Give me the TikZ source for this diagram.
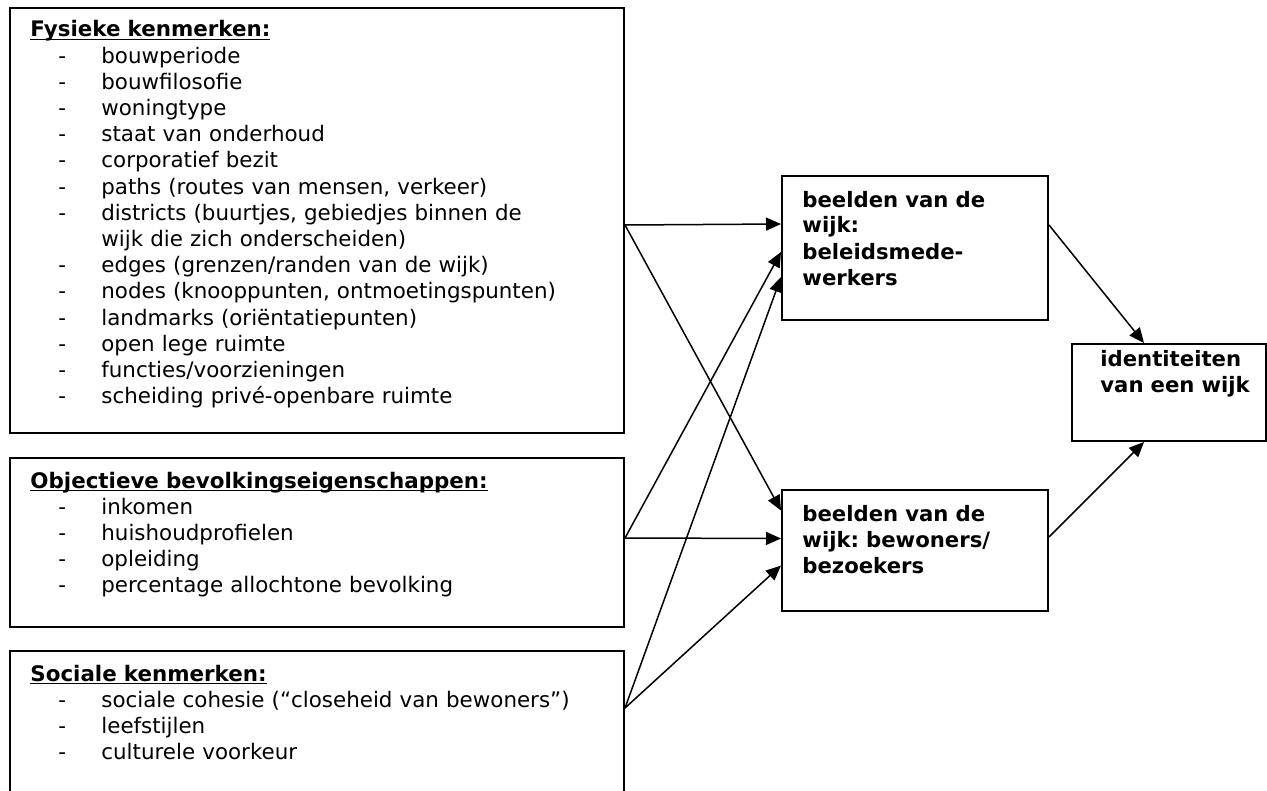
\documentclass[tikz,border=0pt]{standalone}
\usepackage{fontspec}
\setmainfont{DejaVu Sans}
\usetikzlibrary{arrows.meta,calc}
\frenchspacing

\newcommand{\itm}[1]{\hspace*{14pt}\makebox[21.5pt][l]{-}#1}
\newcommand{\kop}[1]{\underline{\smash{\textbf{#1}}}}

\begin{document}
\begin{tikzpicture}[x=0.5pt, y=-0.5pt,
  box/.style = {draw, rectangle, line width=1pt, inner sep=0pt},
  txt/.style = {anchor=base west, align=left, inner sep=0pt, text width=300pt, font=\fontsize{10.7}{13.1}\selectfont},
  vet/.style = {txt, text width=125pt, font=\fontsize{10.6}{13}\selectfont\bfseries},
  pijl/.style = {-{Triangle[length=7.5pt,width=6.5pt]}, line width=0.75pt}]
  \useasboundingbox (0,0) rectangle (1267,791);

  % linker kolom
  \node[box, minimum width=307pt, minimum height=212.5pt] (fys) at (317,220.5) {};
  \node[box, minimum width=307pt, minimum height=84.5pt] (obj) at (317,542.5) {};
  \node[box, minimum width=307pt, minimum height=74.5pt] (soc) at (317,725.5) {};
  \node[txt] (fystxt) at ($(fys.north west)+(21,30)$) {\kop{Fysieke kenmerken:}\\
    \itm{bouwperiode}\\
    \itm{bouwfilosofie}\\
    \itm{woningtype}\\
    \itm{staat van onderhoud}\\
    \itm{corporatief bezit}\\
    \itm{paths (routes van mensen, verkeer)}\\
    \itm{districts (buurtjes, gebiedjes binnen de}\\
    \hspace*{35.5pt}wijk die zich onderscheiden)\\
    \itm{edges (grenzen/randen van de wijk)}\\
    \itm{nodes (knooppunten, ontmoetingspunten)}\\
    \itm{landmarks (oriëntatiepunten)}\\
    \itm{open lege ruimte}\\
    \itm{functies/voorzieningen}\\
    \itm{scheiding privé-openbare ruimte}};
  \node[txt] (objtxt) at ($(obj.north west)+(21,31)$) {\kop{Objectieve bevolkingseigenschappen:}\\
    \itm{inkomen}\\
    \itm{huishoudprofielen}\\
    \itm{opleiding}\\
    \itm{percentage allochtone bevolking}};
  \node[txt] (soctxt) at ($(soc.north west)+(21,31)$) {\kop{Sociale kenmerken:}\\
    \itm{sociale cohesie (“closeheid van bewoners”)}\\
    \itm{leefstijlen}\\
    \itm{culturele voorkeur}};

  % beelden en identiteit
  \node[box, minimum width=133pt, minimum height=72pt] (beleid) at (915,248) {};
  \node[box, minimum width=133pt, minimum height=60.5pt] (bewoner) at (915,550.5) {};
  \node[box, minimum width=97pt, minimum height=48.5pt] (ident) at (1169,392.5) {};
  \node[vet] (beleidtxt) at ($(beleid.north west)+(21,32)$) {beelden van de\\wijk:\\beleidsmede-\\werkers};
  \node[vet] (bewonertxt) at ($(bewoner.north west)+(21,32)$) {beelden van de\\wijk: bewoners/\\bezoekers};
  \node[vet] (identtxt) at ($(ident.north west)+(29,23)$) {identiteiten\\van een wijk};

  \path[pijl]
    ($(fys.east)+(0,4.5)$) edge ($(beleid.west)+(0,-24)$)
    ($(fys.east)+(0,4.5)$) edge ($(bewoner.west)+(0,-40)$)
    ($(obj.east)+(0,-4.5)$) edge ($(beleid.west)+(0,4)$)
    ($(obj.east)+(0,-4.5)$) edge ($(bewoner.west)+(0,-12)$)
    ($(soc.east)+(0,-17.5)$) edge ($(beleid.west)+(0,29)$)
    ($(soc.east)+(0,-17.5)$) edge ($(bewoner.west)+(0,15)$)
    ($(beleid.east)+(0,-23)$) edge ($(ident.north)+(-25,0)$)
    ($(bewoner.east)+(0,-13.5)$) edge ($(ident.south)+(-25,0)$);
\end{tikzpicture}
\end{document}
